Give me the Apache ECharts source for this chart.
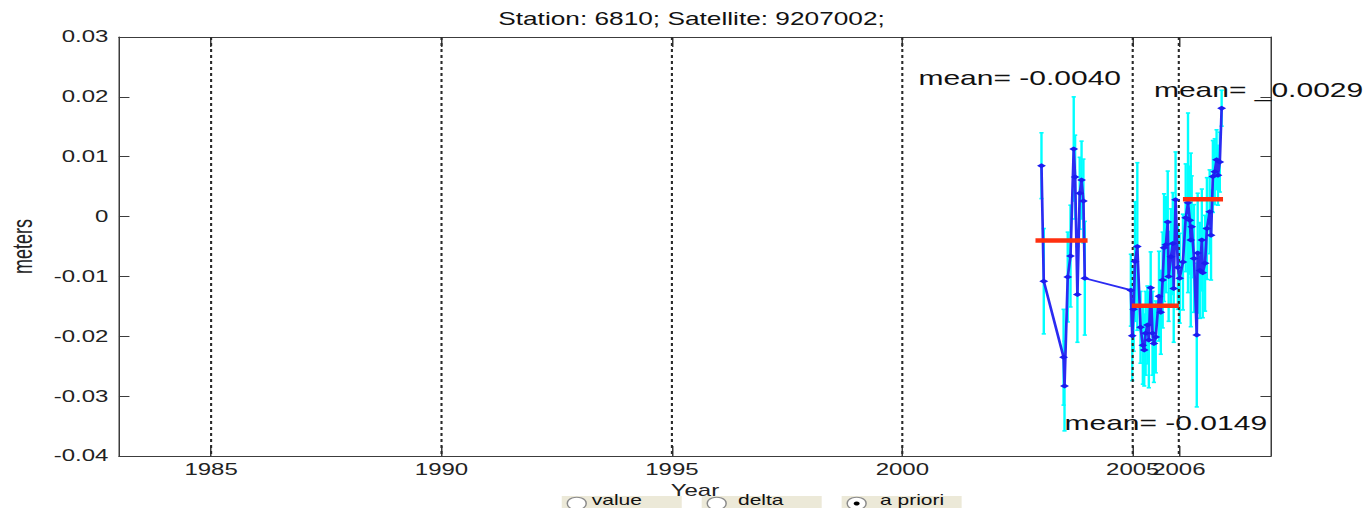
<!DOCTYPE html>
<html>
<head>
<meta charset="utf-8">
<script src="https://cdn.jsdelivr.net/npm/echarts@6/dist/echarts.min.js"></script>
<style>
  html, body { margin: 0; padding: 0; background: #fff; overflow: hidden; }
  #wrap { width: 1365px; height: 508px; overflow: hidden; position: relative; }
  #main { width: 910px; height: 508px; transform: scaleX(1.5); transform-origin: 0 0; }
</style>
</head>
<body>
<div id="wrap"><div id="main"></div></div>
<script>
// ---- data ----
const titleText = 'Station: 6810; Satellite: 9207002;';
const xTicks = [1985, 1990, 1995, 2000, 2005, 2006];
const years = [
  2003.02, 2003.07, 2003.50, 2003.52, 2003.59, 2003.65, 2003.72, 2003.75, 2003.80, 2003.85, 2003.89, 2003.93, 2003.96,
  2004.96, 2004.99, 2005.02, 2005.05, 2005.10, 2005.17, 2005.22, 2005.25, 2005.28, 2005.32, 2005.35, 2005.39, 2005.43,
  2005.46, 2005.50, 2005.57, 2005.61, 2005.65, 2005.68, 2005.72, 2005.76, 2005.78, 2005.83, 2005.87, 2005.89, 2005.93, 2005.98,
  2006.02, 2006.09, 2006.15, 2006.20, 2006.24, 2006.26, 2006.28, 2006.33, 2006.39, 2006.41, 2006.46, 2006.50, 2006.52,
  2006.57, 2006.61, 2006.67, 2006.70, 2006.74, 2006.78, 2006.82, 2006.85, 2006.89, 2006.93
];
const values = [
  0.0085, -0.0108, -0.0235, -0.0283, -0.0101, -0.0066, 0.0113, 0.0066, -0.0130, 0.0039, 0.0061, 0.0026, -0.0103,
  -0.0123, -0.0199, -0.0155, -0.0075, -0.0050, -0.0185, -0.0215, -0.0223, -0.0195, -0.0181, -0.0206, -0.0119, -0.0195,
  -0.0212, -0.0201, -0.0133, -0.0160, -0.0106, -0.0052, -0.0047, -0.0009, -0.0100, -0.0067, -0.0045, -0.0120, 0.0028, -0.0085,
  -0.0103, -0.0076, -0.0002, 0.0023, -0.0006, -0.0039, -0.0017, -0.0070, -0.0198, -0.0061, -0.0090, -0.0039, -0.0094,
  -0.0078, -0.0020, 0.0008, -0.0031, 0.0067, 0.0075, 0.0095, 0.0069, 0.0091, 0.0181
];
const errors = [
  0.0055, 0.0088, 0.0080, 0.0075, 0.0075, 0.0085, 0.0087, 0.0070, 0.0080, 0.0060, 0.0065, 0.0070, 0.0095,
  0.0060, 0.0075, 0.0070, 0.0100, 0.0140, 0.0060, 0.0065, 0.0060, 0.0070, 0.0065, 0.0080, 0.0060, 0.0070,
  0.0065, 0.0060, 0.0075, 0.0070, 0.0080, 0.0090, 0.0080, 0.0085, 0.0075, 0.0080, 0.0085, 0.0090, 0.0080, 0.0070,
  0.0075, 0.0080, 0.0090, 0.0150, 0.0090, 0.0145, 0.0085, 0.0090, 0.0120, 0.0100, 0.0080, 0.0085, 0.0075,
  0.0080, 0.0085, 0.0070, 0.0075, 0.0060, 0.0055, 0.0050, 0.0050, 0.0050, 0.0030
];
const meanStart = [2002.89, 2004.98, 2006.09];
const meanEnd = [2004.02, 2006.00, 2006.96];
const meanValues = [-0.0040, -0.0149, 0.0029];
const meanLabels = ['mean= -0.0040', 'mean= -0.0149', 'mean= _0.0029'];
const meanLabelX = [2000.35, 2003.52, 2005.46];
const meanLabelY = [0.0231, -0.0345, 0.0211];
const radioLabels = ['value', 'delta', 'a priori'];
const radioSelected = 2;

// ---- chart ----
const FONT = "'Liberation Sans', Arial, sans-serif";
const chart = echarts.init(document.getElementById('main'), null, { renderer: 'svg' });

const errData = years.map((y, i) => [y, values[i], errors[i]]);
const lineData = years.map((y, i) => [y, values[i]]);
const meanData = meanValues.map((m, i) => [meanStart[i], meanEnd[i], m]);
const labelData = meanLabels.map((t, i) => [meanLabelX[i], meanLabelY[i], i]);
const gridData = xTicks.map(v => [v, 0]);
// 2005 and 2006 labels overlap in the reference; give the last one its own axis so both are shown
const xTicksMain = xTicks.slice(0, -1);
const xTicksLast = xTicks.slice(-1);

const radioGraphics = [];
const boxLeft = [374.5, 467.8, 561.1];
const textLeft = [394.5, 492, 586.7];
radioLabels.forEach((lab, i) => {
  radioGraphics.push({ type: 'rect', shape: { x: boxLeft[i], y: 496, width: 80, height: 14 }, style: { fill: '#ECE9D8' }, z: 100 });
  radioGraphics.push({ type: 'circle', shape: { cx: boxLeft[i] + 10, cy: 503.5, r: 6.3 }, style: { fill: '#ffffff', stroke: '#8a8a8a', lineWidth: 1 }, z: 101 });
  if (i === radioSelected) {
    radioGraphics.push({ type: 'circle', shape: { cx: boxLeft[i] + 10, cy: 503.5, r: 2 }, style: { fill: '#000' }, z: 102 });
  }
  radioGraphics.push({ type: 'text', x: textLeft[i], y: 507.5, style: { text: lab, font: '14px ' + FONT, fill: '#111', verticalAlign: 'bottom', align: 'left' }, z: 102 });
});

const axisLineStyle = { color: '#3c3c3c', width: 1 };
const labelStyle = { fontSize: 16, fontFamily: FONT, color: '#222' };

chart.setOption({
  animation: false,
  backgroundColor: '#ffffff',
  title: {
    text: titleText, left: 456, top: 5, textAlign: 'center',
    textStyle: { fontSize: 17.5, fontWeight: 'normal', color: '#111', fontFamily: FONT }
  },
  grid: { left: 79.3, right: 62.7, top: 37, bottom: 52, containLabel: false, outerBoundsMode: 'none' },
  xAxis: [{
    type: 'value', min: 1983, max: 2008, position: 'bottom',
    axisLine: { show: true, onZero: false, lineStyle: axisLineStyle },
    axisTick: { show: true, inside: true, length: 10, customValues: xTicks, lineStyle: axisLineStyle },
    axisLabel: Object.assign({ customValues: xTicksMain, formatter: v => String(v), margin: 6, hideOverlap: false }, labelStyle),
    splitLine: { show: false },
    name: 'Year', nameLocation: 'middle', nameGap: 26,
    nameTextStyle: labelStyle
  }, {
    type: 'value', min: 1983, max: 2008, position: 'top',
    axisLine: { show: true, onZero: false, lineStyle: axisLineStyle },
    axisTick: { show: true, inside: true, length: 10, customValues: xTicks, lineStyle: axisLineStyle },
    axisLabel: { show: false }, splitLine: { show: false }
  }, {
    type: 'value', min: 1983, max: 2008, position: 'bottom', offset: 0,
    axisLine: { show: false, onZero: false },
    axisTick: { show: false },
    axisLabel: Object.assign({ customValues: xTicksLast, formatter: v => String(v), margin: 6, hideOverlap: false }, labelStyle),
    splitLine: { show: false }
  }],
  yAxis: [{
    type: 'value', min: -0.04, max: 0.03, interval: 0.01, position: 'left',
    axisLine: { show: true, onZero: false, lineStyle: axisLineStyle },
    axisTick: { show: true, inside: true, length: 7, lineStyle: axisLineStyle },
    axisLabel: Object.assign({
      formatter: v => (Math.abs(v) < 1e-9 ? '0' : v.toFixed(2)), margin: 7
    }, labelStyle),
    splitLine: { show: false },
    name: 'meters', nameLocation: 'middle', nameGap: 55, nameRotate: 90,
    nameTextStyle: { fontSize: 18, fontFamily: FONT, color: '#222' }
  }, {
    type: 'value', min: -0.04, max: 0.03, interval: 0.01, position: 'right',
    axisLine: { show: true, onZero: false, lineStyle: axisLineStyle },
    axisTick: { show: true, inside: true, length: 7, lineStyle: axisLineStyle },
    axisLabel: { show: false }, splitLine: { show: false }
  }],
  series: [
    {
      type: 'custom', z: 1, silent: true,
      data: labelData, encode: { x: 0, y: 1 },
      renderItem: (params, api) => {
        const p = api.coord([api.value(0), api.value(1)]);
        return { type: 'text', x: p[0], y: p[1], style: { text: meanLabels[api.value(2)], font: '20px ' + FONT, fill: '#111', align: 'left', verticalAlign: 'middle' } };
      }
    },
    {
      type: 'custom', z: 2, silent: true,
      data: errData, encode: { x: 0, y: 1 },
      renderItem: (params, api) => {
        const x = api.value(0), v = api.value(1), e = api.value(2);
        const t = api.coord([x, v + e]);
        const b = api.coord([x, v - e]);
        const st = { stroke: '#00FFFF', lineWidth: 1.6 };
        const cap = 1.4;
        return { type: 'group', children: [
          { type: 'line', shape: { x1: t[0], y1: t[1], x2: b[0], y2: b[1] }, style: st },
          { type: 'line', shape: { x1: t[0] - cap, y1: t[1], x2: t[0] + cap, y2: t[1] }, style: st },
          { type: 'line', shape: { x1: b[0] - cap, y1: b[1], x2: b[0] + cap, y2: b[1] }, style: st }
        ] };
      }
    },
    {
      type: 'custom', z: 3, silent: true,
      data: gridData, encode: { x: 0 },
      renderItem: (params, api) => {
        const a = api.coord([api.value(0), 0.03]);
        const b = api.coord([api.value(0), -0.04]);
        return { type: 'line', shape: { x1: a[0], y1: a[1], x2: b[0], y2: b[1] }, style: { stroke: '#2a2a2a', lineWidth: 1.4, lineDash: [3, 3] } };
      }
    },
    {
      type: 'line', z: 4, data: lineData,
      symbol: 'diamond', symbolSize: [6, 5], showAllSymbol: true,
      lineStyle: { color: '#2b2bf2', width: 1.8 },
      itemStyle: { color: '#1c1cf0' }
    },
    {
      type: 'custom', z: 5, silent: true,
      data: meanData, encode: { x: [0, 1], y: 2 },
      renderItem: (params, api) => {
        const a = api.coord([api.value(0), api.value(2)]);
        const b = api.coord([api.value(1), api.value(2)]);
        return { type: 'line', shape: { x1: a[0], y1: a[1], x2: b[0], y2: b[1] }, style: { stroke: '#FF3010', lineWidth: 4.5 } };
      }
    }
  ],
  graphic: radioGraphics
});
</script>
</body>
</html>
